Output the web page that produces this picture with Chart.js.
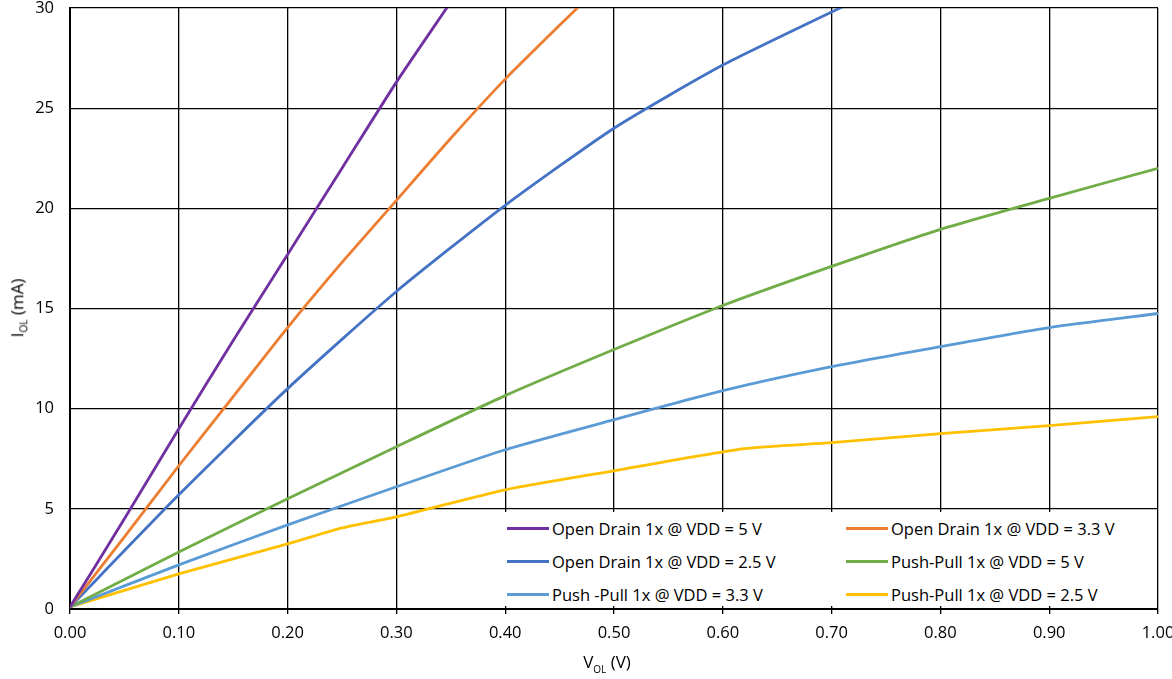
<!DOCTYPE html>
<html>
<head>
<meta charset="utf-8">
<script src="https://cdn.jsdelivr.net/npm/chart.js@4.4.1/dist/chart.umd.min.js"></script>
<style>
  body { margin: 0; background: #fff; font-family: "Open Sans", sans-serif; }
  #wrap { position: relative; width: 1172px; height: 679px; }
  #legend {
    position: absolute; left: 497px; top: 512px; width: 658px; height: 94px;
    background: #fff; display: grid; grid-template-columns: 339px auto;
    padding-left: 10px; box-sizing: border-box; align-content: space-evenly;
  }
  .item { display: flex; align-items: center; font-size: 16.5px; color: #000; height: 33px; white-space: nowrap; }
  .swatch { width: 42px; height: 3px; margin-right: 3px; }
  .ytitle { position: absolute; left: 18px; top: 308px; transform: translate(-50%, -50%) rotate(-90deg); font-size: 17px; white-space: nowrap; }
  .xtitle { position: absolute; left: 607px; top: 663px; transform: translate(-50%, -50%); font-size: 17px; white-space: nowrap; }
  sub { font-size: 10px; }
</style>
</head>
<body>
<div id="wrap">
  <canvas id="myChart" width="1172" height="679"></canvas>
  <div id="legend"></div>
  <div class="ytitle">I<sub>OL</sub> (mA)</div>
  <div class="xtitle">V<sub>OL</sub> (V)</div>
</div>
<script>
// V_OL (V) / I_OL (mA)
const odVdd5V = [0, 0.05, 0.1, 0.15, 0.2, 0.25, 0.3, 0.35];
const odVdd5I = [0.1, 4.5, 9.0, 13.4, 17.7, 22.0, 26.3, 30.3];

const odVdd33V = [0, 0.05, 0.1, 0.15, 0.2, 0.25, 0.3, 0.35, 0.4, 0.47];
const odVdd33I = [0.1, 3.6, 7.15, 10.6, 14.05, 17.3, 20.4, 23.5, 26.45, 30.2];

const odVdd25V = [0, 0.1, 0.2, 0.3, 0.4, 0.5, 0.6, 0.7, 0.72];
const odVdd25I = [0.1, 5.7, 11.0, 15.85, 20.15, 24.0, 27.15, 29.8, 30.3];

const ppVdd5V = [0, 0.1, 0.2, 0.3, 0.4, 0.5, 0.6, 0.7, 0.8, 0.9, 1.0];
const ppVdd5I = [0.1, 2.85, 5.5, 8.1, 10.65, 12.95, 15.15, 17.1, 18.95, 20.5, 22.0];

const ppVdd33V = [0, 0.1, 0.2, 0.3, 0.4, 0.5, 0.6, 0.7, 0.8, 0.9, 1.0];
const ppVdd33I = [0.1, 2.2, 4.2, 6.1, 7.95, 9.45, 10.9, 12.1, 13.1, 14.05, 14.75];

const ppVdd25V = [0, 0.1, 0.2, 0.25, 0.3, 0.4, 0.5, 0.62, 0.7, 0.8, 0.9, 1.0];
const ppVdd25I = [0.1, 1.75, 3.25, 4.05, 4.6, 5.95, 6.9, 8.0, 8.3, 8.75, 9.15, 9.6];

const seriesNames = [
  "Open Drain 1x @ VDD = 5 V",
  "Open Drain 1x @ VDD = 3.3 V",
  "Open Drain 1x @ VDD = 2.5 V",
  "Push-Pull 1x @ VDD = 5 V",
  "Push -Pull 1x @ VDD = 3.3 V",
  "Push-Pull 1x @ VDD = 2.5 V"
];
const seriesColors = ["#7030A0", "#ED7D31", "#4472C4", "#70AD47", "#5B9BD5", "#FFC000"];

const xTicks = [0, 1, 0.1];   // min, max, step
const yTicks = [0, 30, 5];

function toPoints(xs, ys) {
  return xs.map((x, i) => ({ x: x, y: ys[i] }));
}

const allSeries = [
  toPoints(odVdd5V, odVdd5I),
  toPoints(odVdd33V, odVdd33I),
  toPoints(odVdd25V, odVdd25I),
  toPoints(ppVdd5V, ppVdd5I),
  toPoints(ppVdd33V, ppVdd33I),
  toPoints(ppVdd25V, ppVdd25I)
];

const datasets = allSeries.map((pts, i) => ({
  label: seriesNames[i],
  data: pts,
  borderColor: seriesColors[i],
  backgroundColor: seriesColors[i],
  borderWidth: 2.8,
  pointRadius: 0,
  tension: 0.2,
  fill: false
}));

Chart.defaults.font.family = "'Open Sans', sans-serif";
Chart.defaults.color = "#000";

new Chart(document.getElementById("myChart").getContext("2d"), {
  type: "line",
  data: { datasets: datasets },
  options: {
    responsive: false,
    animation: false,
    layout: { padding: { top: 8, right: 14, left: 0, bottom: 0 } },
    plugins: { legend: { display: false }, tooltip: { enabled: false } },
    scales: {
      x: {
        type: "linear",
        min: xTicks[0],
        max: xTicks[1],
        ticks: {
          stepSize: xTicks[2],
          font: { size: 16.5 },
          padding: 9,
          callback: (v) => Number(v).toFixed(2)
        },
        grid: { color: "#000", lineWidth: 1.3, tickLength: 5, tickColor: "#000" },
        border: { color: "#000", width: 2 },
        afterFit: (scale) => {
          scale.height = 70;
          scale.paddingLeft = 0;
          scale.paddingRight = 0;
        }
      },
      y: {
        min: yTicks[0],
        max: yTicks[1],
        ticks: { stepSize: yTicks[2], font: { size: 16.5 }, padding: 16 },
        grid: { color: "#000", lineWidth: 1.3, drawTicks: false },
        border: { color: "#000", width: 2 },
        afterFit: (scale) => {
          scale.width = 70;
          scale.paddingTop = 0;
          scale.paddingBottom = 0;
        }
      }
    }
  }
});

// legend inside the plot, bottom right
const legendEl = document.getElementById("legend");
seriesNames.forEach((name, i) => {
  const item = document.createElement("div");
  item.className = "item";
  item.innerHTML = `<span class="swatch" style="background:${seriesColors[i]}"></span><span>${name}</span>`;
  legendEl.appendChild(item);
});
</script>
</body>
</html>
